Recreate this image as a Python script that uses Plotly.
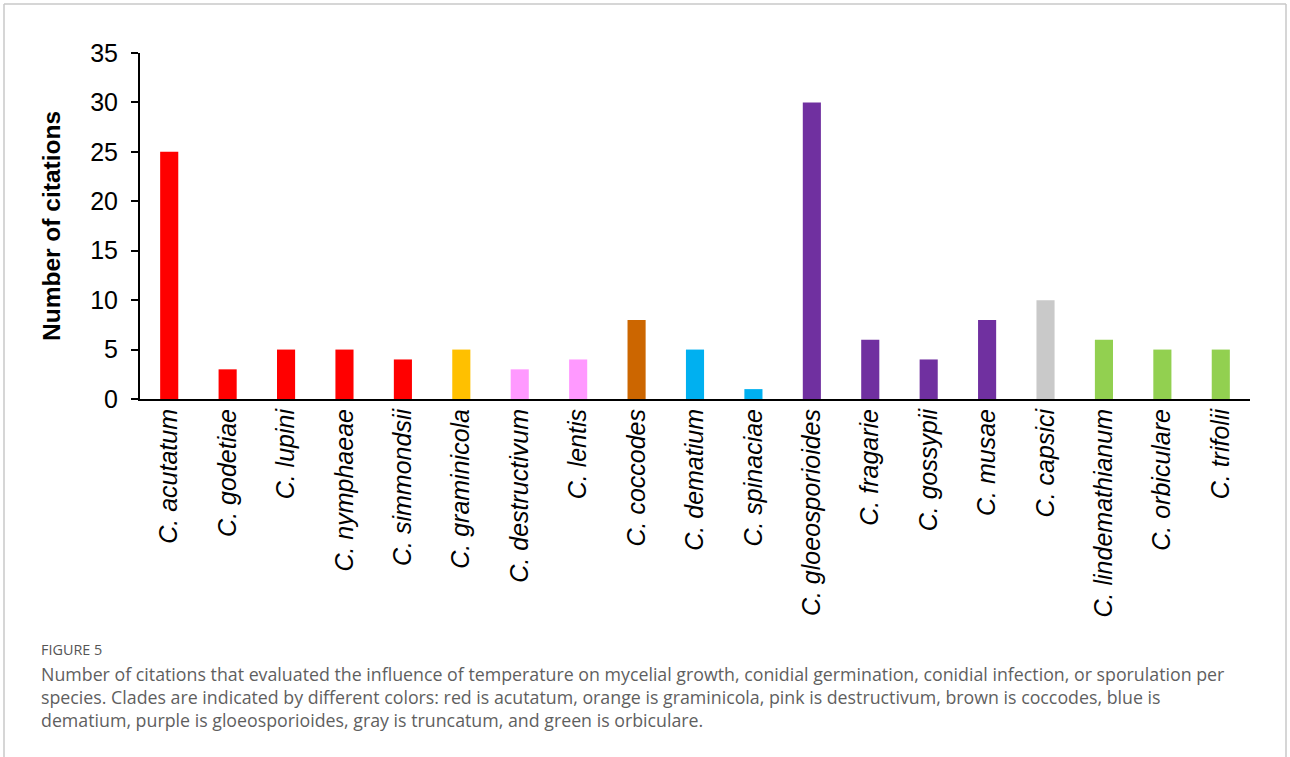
import plotly.graph_objects as go

species = ["C. acutatum", "C. godetiae", "C. lupini", "C. nymphaeae", "C. simmondsii",
           "C. graminicola", "C. destructivum", "C. lentis", "C. coccodes", "C. dematium",
           "C. spinaciae", "C. gloeosporioides", "C. fragarie", "C. gossypii", "C. musae",
           "C. capsici", "C. lindemathianum", "C. orbiculare", "C. trifolii"]
citations = [25, 3, 5, 5, 4, 5, 3, 4, 8, 5, 1, 30, 6, 4, 8, 10, 6, 5, 5]
clades = ["acutatum"] * 5 + ["graminicola", "destructivum", "destructivum", "coccodes",
          "dematium", "dematium"] + ["gloeosporioides"] * 4 + ["truncatum"] + ["orbiculare"] * 3
clade_colors = {
    "acutatum": "#FF0000",
    "graminicola": "#FFC000",
    "destructivum": "#FF99FF",
    "coccodes": "#CC6600",
    "dematium": "#00B0F0",
    "gloeosporioides": "#7030A0",
    "truncatum": "#C9C9C9",
    "orbiculare": "#92D050",
}
y_ticks = [0, 5, 10, 15, 20, 25, 30, 35]

W, H = 1290, 757
L, R, T, B = 140, 40, 53, 358
pw, ph = W - L - R, H - T - B

def px(x):
    return (x - L) / pw

def py(y):
    return (H - B - y) / ph

fig = go.Figure()
fig.add_trace(go.Bar(
    x=species, y=citations,
    marker=dict(color=[clade_colors[c] for c in clades], line=dict(width=0)),
    width=0.31, showlegend=False,
))

fig.update_layout(
    width=W, height=H,
    margin=dict(l=L, r=R, t=T, b=B),
    paper_bgcolor="white", plot_bgcolor="white",
    font=dict(family="Liberation Sans, Arial, sans-serif", color="black"),
    xaxis=dict(
        type="category", showline=True, linecolor="black", linewidth=2,
        ticks="", tickangle=-90, showgrid=False,
        tickfont=dict(size=25, style="italic", color="black"),
        ticklabelstandoff=-2,
    ),
    yaxis=dict(
        range=[0, 35], tickvals=y_ticks, showline=True, linecolor="black", linewidth=2,
        ticks="outside", ticklen=7, tickwidth=1.5, tickcolor="black",
        showgrid=False, zeroline=False,
        tickfont=dict(size=25, color="black"),
        ticklabelstandoff=8,
        title=dict(text="<b>Number of citations</b>", font=dict(size=24.5, color="black"), standoff=23),
    ),
)

border = "#C8C8C8"
fig.add_shape(type="line", xref="paper", yref="paper", x0=px(4), x1=px(4), y0=py(4), y1=py(760),
              line=dict(color=border, width=1.5))
fig.add_shape(type="line", xref="paper", yref="paper", x0=px(1286), x1=px(1286), y0=py(4), y1=py(760),
              line=dict(color=border, width=1.5))
fig.add_shape(type="line", xref="paper", yref="paper", x0=px(4), x1=px(1286), y0=py(4), y1=py(4),
              line=dict(color=border, width=1.5))

cap_font = "Open Sans, Lato, sans-serif"
fig.add_annotation(text="FIGURE 5", xref="paper", yref="paper", x=px(39), y=py(649),
                   xanchor="left", yanchor="middle", showarrow=False,
                   font=dict(family=cap_font, size=14.4, color="#555555"))
caption_lines = [
    "Number of citations that evaluated the influence of temperature on mycelial growth, conidial germination, conidial infection, or sporulation per",
    "species. Clades are indicated by different colors: red is acutatum, orange is graminicola, pink is destructivum, brown is coccodes, blue is",
    "dematium, purple is gloeosporioides, gray is truncatum, and green is orbiculare.",
]
for line, yy in zip(caption_lines, [674, 697, 720]):
    fig.add_annotation(text=line, xref="paper", yref="paper", x=px(39), y=py(yy),
                       xanchor="left", yanchor="middle", showarrow=False,
                       font=dict(family=cap_font, size=17.8, color="#5f5f5f"))

fig.write_html("out.html", config={"displayModeBar": False},
               post_script="document.body.style.margin='0';document.body.style.overflow='hidden';")
